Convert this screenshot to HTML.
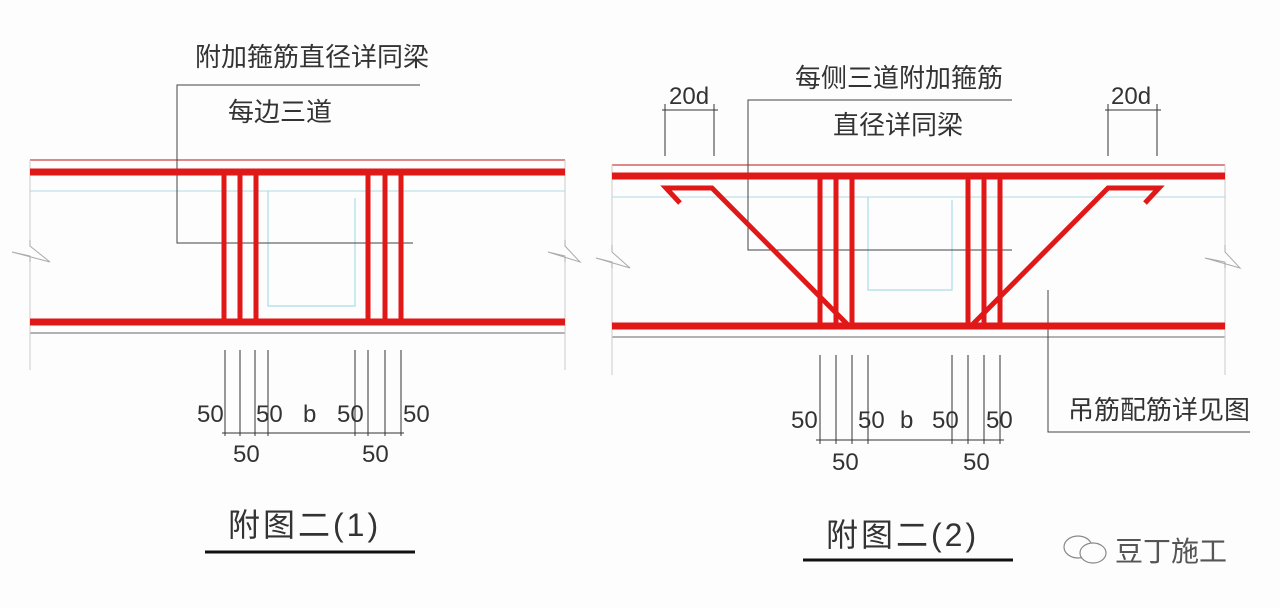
<!DOCTYPE html>
<html><head><meta charset="utf-8"><style>
html,body{margin:0;padding:0;background:#fff;}
svg{display:block}
text{font-family:"Liberation Sans","Noto Sans CJK SC",sans-serif;fill:#333;}
.t{font-size:26px;}
.n{font-size:24px;font-family:"Liberation Sans Narrow","Liberation Sans",sans-serif;}
</style></head><body>
<svg width="1280" height="608" viewBox="0 0 1280 608" xmlns="http://www.w3.org/2000/svg">
<rect width="1280" height="608" fill="#fdfdfd"/>
<!-- LEFT -->
<g>
<line x1="30" y1="160" x2="565" y2="160" stroke="#c44" stroke-width="1.2"/>
<line x1="30" y1="191" x2="565" y2="191" stroke="#bfe3ea" stroke-width="1.2"/>
<line x1="30" y1="333" x2="565" y2="333" stroke="#999" stroke-width="1.5"/>
<line x1="30" y1="160" x2="30" y2="240" stroke="#ccc"/><line x1="30" y1="262" x2="30" y2="370" stroke="#ccc"/>
<line x1="565" y1="160" x2="565" y2="240" stroke="#ccc"/><line x1="565" y1="262" x2="565" y2="370" stroke="#ccc"/>
<polyline points="30,240 30,246 50,262 12,252 30,256 30,262" fill="none" stroke="#aaa"/>
<polyline points="565,240 565,246 580,262 548,252 565,256 565,262" fill="none" stroke="#aaa"/>
<polyline points="268,191 268,306 355,306 355,198" fill="none" stroke="#a9dde6" stroke-width="1.2"/>
<polyline points="420,85 177,85 177,243 413,243" fill="none" stroke="#444" stroke-width="1"/>
<g stroke="#e01818" stroke-width="5">
<line x1="224" y1="172" x2="224" y2="322"/><line x1="240" y1="172" x2="240" y2="322"/><line x1="256" y1="172" x2="256" y2="322"/>
<line x1="368" y1="172" x2="368" y2="322"/><line x1="385" y1="172" x2="385" y2="322"/><line x1="401" y1="172" x2="401" y2="322"/>
</g>
<line x1="30" y1="172" x2="565" y2="172" stroke="#e01818" stroke-width="7"/>
<line x1="30" y1="322" x2="565" y2="322" stroke="#e01818" stroke-width="7"/>
<g stroke="#333" stroke-width="1">
<line x1="225" y1="350" x2="225" y2="436"/><line x1="240" y1="350" x2="240" y2="436"/><line x1="255" y1="350" x2="255" y2="436"/><line x1="268" y1="350" x2="268" y2="436"/>
<line x1="355" y1="350" x2="355" y2="436"/><line x1="368" y1="350" x2="368" y2="436"/><line x1="385" y1="350" x2="385" y2="436"/><line x1="401" y1="350" x2="401" y2="436"/>
<line x1="222" y1="433" x2="404" y2="433"/>
</g>
<text class="t" x="195" y="66">附加箍筋直径详同梁</text>
<text class="t" x="228" y="121">每边三道</text>
<text class="n" x="197" y="422">50</text><text class="n" x="256" y="422">50</text><text class="n" x="303" y="422">b</text><text class="n" x="337" y="422">50</text><text class="n" x="403" y="422">50</text>
<text class="n" x="233" y="462">50</text><text class="n" x="362" y="462">50</text>
<text x="228" y="536" style="font-size:32px;letter-spacing:3px">附图二(1)</text>
<line x1="205" y1="552" x2="415" y2="552" stroke="#111" stroke-width="3"/>
</g>
<!-- RIGHT -->
<g>
<line x1="612" y1="165" x2="1225" y2="165" stroke="#c44" stroke-width="1.2"/>
<line x1="612" y1="197" x2="1225" y2="197" stroke="#bfe3ea" stroke-width="1.2"/>
<line x1="612" y1="337" x2="1225" y2="337" stroke="#999" stroke-width="1.5"/>
<line x1="612" y1="165" x2="612" y2="245" stroke="#ccc"/><line x1="612" y1="268" x2="612" y2="375" stroke="#ccc"/>
<line x1="1225" y1="165" x2="1225" y2="245" stroke="#ccc"/><line x1="1225" y1="268" x2="1225" y2="375" stroke="#ccc"/>
<polyline points="612,245 612,252 630,268 596,258 612,262 612,268" fill="none" stroke="#aaa"/>
<polyline points="1225,245 1225,252 1240,268 1205,258 1225,262 1225,268" fill="none" stroke="#aaa"/>
<polyline points="868,197 868,290 952,290 952,200" fill="none" stroke="#a9dde6" stroke-width="1.2"/>
<polyline points="1012,100 748,100 748,250 1012,250" fill="none" stroke="#444" stroke-width="1"/>
<polyline points="1048,290 1048,432 1250,432" fill="none" stroke="#444" stroke-width="1"/>
<g stroke="#e01818" stroke-width="5">
<line x1="820" y1="176" x2="820" y2="326"/><line x1="836" y1="176" x2="836" y2="326"/><line x1="852" y1="176" x2="852" y2="326"/>
<line x1="968" y1="176" x2="968" y2="326"/><line x1="984" y1="176" x2="984" y2="326"/><line x1="1000" y1="176" x2="1000" y2="326"/>
</g>
<g stroke="#e01818" stroke-width="5" fill="none" stroke-linejoin="miter">
<polyline points="680,203 666,188 712,188 848,325"/>
<polyline points="1145,203 1159,188 1108,188 972,325"/>
</g>
<line x1="612" y1="176" x2="1225" y2="176" stroke="#e01818" stroke-width="7"/>
<line x1="612" y1="326" x2="1225" y2="326" stroke="#e01818" stroke-width="7"/>
<g stroke="#333" stroke-width="1">
<line x1="665" y1="104" x2="665" y2="156"/><line x1="714" y1="104" x2="714" y2="156"/><line x1="662" y1="110" x2="718" y2="110"/>
<line x1="1108" y1="104" x2="1108" y2="156"/><line x1="1157" y1="104" x2="1157" y2="156"/><line x1="1105" y1="110" x2="1161" y2="110"/>
<line x1="820" y1="355" x2="820" y2="444"/><line x1="836" y1="355" x2="836" y2="444"/><line x1="852" y1="355" x2="852" y2="444"/><line x1="868" y1="355" x2="868" y2="444"/>
<line x1="952" y1="355" x2="952" y2="444"/><line x1="968" y1="355" x2="968" y2="444"/><line x1="984" y1="355" x2="984" y2="444"/><line x1="1000" y1="355" x2="1000" y2="444"/>
<line x1="816" y1="440" x2="1004" y2="440"/>
</g>
<text class="n" x="669" y="104">20d</text>
<text class="n" x="1111" y="104">20d</text>
<text class="t" x="795" y="87">每侧三道附加箍筋</text>
<text class="t" x="833" y="134">直径详同梁</text>
<text class="t" x="1068" y="419">吊筋配筋详见图</text>
<text class="n" x="791" y="428">50</text><text class="n" x="858" y="428">50</text><text class="n" x="900" y="428">b</text><text class="n" x="932" y="428">50</text><text class="n" x="986" y="428">50</text>
<text class="n" x="832" y="470">50</text><text class="n" x="963" y="470">50</text>
<text x="826" y="546" style="font-size:32px;letter-spacing:3px">附图二(2)</text>
<line x1="803" y1="560" x2="1013" y2="560" stroke="#111" stroke-width="3"/>
</g>
<!-- watermark -->
<g fill="none" stroke="#888" stroke-width="1.2">
<ellipse cx="1078" cy="547" rx="14" ry="11"/>
<ellipse cx="1093" cy="553" rx="13" ry="10" fill="#fdfdfd"/>
</g>
<text x="1115" y="561" style="font-size:28px;fill:#555">豆丁施工</text>
</svg>
</body></html>
